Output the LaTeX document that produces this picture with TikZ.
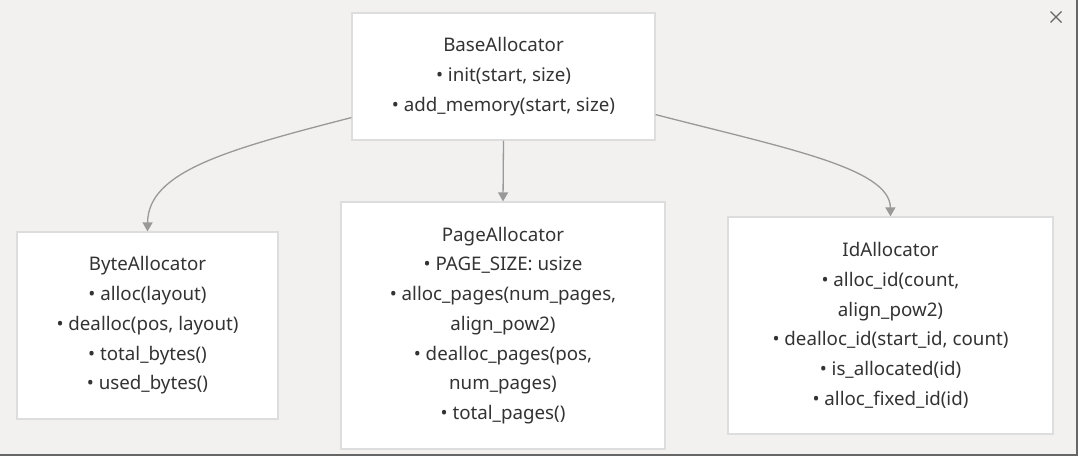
\documentclass[tikz,border=0pt]{standalone}
\usepackage{fontspec}
\setmainfont{Noto Sans}
\usetikzlibrary{arrows.meta,calc}
\definecolor{bgc}{HTML}{F2F1F0}
\definecolor{bordc}{HTML}{DDDDDD}
\definecolor{txtc}{HTML}{333333}
\definecolor{arrc}{HTML}{999999}
\definecolor{edgec}{HTML}{666666}
\begin{document}
\begin{tikzpicture}[x=1bp,y=-1bp,
  cls/.style={draw=bordc,line width=1.2bp,fill=white,align=center,text=txtc,
    font=\fontsize{18.8}{29.8}\selectfont,inner sep=0pt},
  conn/.style={draw=arrc,line width=1.3bp,-{Triangle[length=9bp,width=10bp]}}]
\fill[bgc] (0,0) rectangle (1078,456);
\useasboundingbox (0,0) rectangle (1078,456);
\fill[edgec] (0,454) rectangle (1078,456);
\fill[edgec] (1076,0) rectangle (1078,456);
\node[cls,minimum width=303bp,minimum height=127bp] (base) at (503.5,76.5)
  {BaseAllocator\\• init(start, size)\\• add\_memory(start, size)};
\node[cls,minimum width=261bp,minimum height=187bp] (byte) at (147.5,325.5)
  {ByteAllocator\\• alloc(layout)\\• dealloc(pos, layout)\\• total\_bytes()\\• used\_bytes()};
\node[cls,minimum width=324bp,minimum height=247bp] (page) at (503,325.5)
  {PageAllocator\\• PAGE\_SIZE: usize\\• alloc\_pages(num\_pages,\\align\_pow2)\\• dealloc\_pages(pos,\\num\_pages)\\• total\_pages()};
\node[cls,minimum width=325bp,minimum height=217bp] (id) at (890.5,325.5)
  {IdAllocator\\• alloc\_id(count,\\align\_pow2)\\• dealloc\_id(start\_id, count)\\• is\_allocated(id)\\• alloc\_fixed\_id(id)};
\coordinate (bl) at ($(base.south west)+(0,-23)$);
\coordinate (br) at ($(base.south east)+(0,-26)$);
\draw[conn] (bl) .. controls (225,150) and (148,172) .. (byte.north);
\draw[conn] (base.south) -- (page.north);
\draw[conn] (br) .. controls (785,148) and (890,168) .. (id.north);
\coordinate (xc) at (1056,17);
\draw[edgec,line width=1.2bp] ($(xc)+(-5.5,-5.5)$) -- ($(xc)+(5.5,5.5)$);
\draw[edgec,line width=1.2bp] ($(xc)+(-5.5,5.5)$) -- ($(xc)+(5.5,-5.5)$);
\end{tikzpicture}
\end{document}
